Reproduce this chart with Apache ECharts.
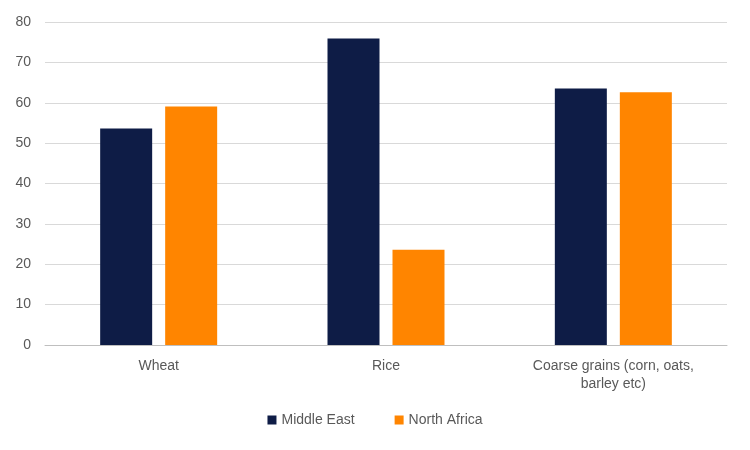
<!DOCTYPE html>
<html>
<head>
<meta charset="utf-8">
<script src="https://cdn.jsdelivr.net/npm/echarts@6/dist/echarts.min.js"></script>
<style>html,body{margin:0;padding:0;background:#fff}#chart{width:750px;height:450px}</style>
</head>
<body>
<div id="chart"></div>
<script>
var categories = ['Wheat', 'Rice', 'Coarse grains (corn, oats,\nbarley etc)'];
var middleEast = [53.6, 75.9, 63.5];
var northAfrica = [59.1, 23.6, 62.6];
var yTicks = { min: 0, max: 80, interval: 10 };

var chart = echarts.init(document.getElementById('chart'));
var labelStyle = { color: '#595959', fontSize: 14, fontFamily: 'Arial, Liberation Sans, sans-serif' };
chart.setOption({
    animation: false,
    grid: { left: 45, right: 23, top: 22, bottom: 105 },
    legend: {
        bottom: 18, itemWidth: 9, itemHeight: 9, itemGap: 40, icon: 'rect',
        textStyle: labelStyle,
        data: ['Middle East', 'North Africa']
    },
    xAxis: {
        type: 'category', data: categories,
        axisTick: { show: false },
        axisLine: { lineStyle: { color: '#bfbfbf' } },
        axisLabel: Object.assign({ margin: 12, lineHeight: 18, interval: 0 }, labelStyle)
    },
    yAxis: {
        type: 'value', min: yTicks.min, max: yTicks.max, interval: yTicks.interval,
        axisLine: { show: false }, axisTick: { show: false },
        splitLine: { lineStyle: { color: '#d9d9d9' } },
        axisLabel: Object.assign({ margin: 14 }, labelStyle)
    },
    series: [
        { name: 'Middle East', type: 'bar', data: middleEast, barWidth: 52, barGap: '25%', itemStyle: { color: '#0e1c46' } },
        { name: 'North Africa', type: 'bar', data: northAfrica, barWidth: 52, itemStyle: { color: '#ff8500' } }
    ]
});
</script>
</body>
</html>
